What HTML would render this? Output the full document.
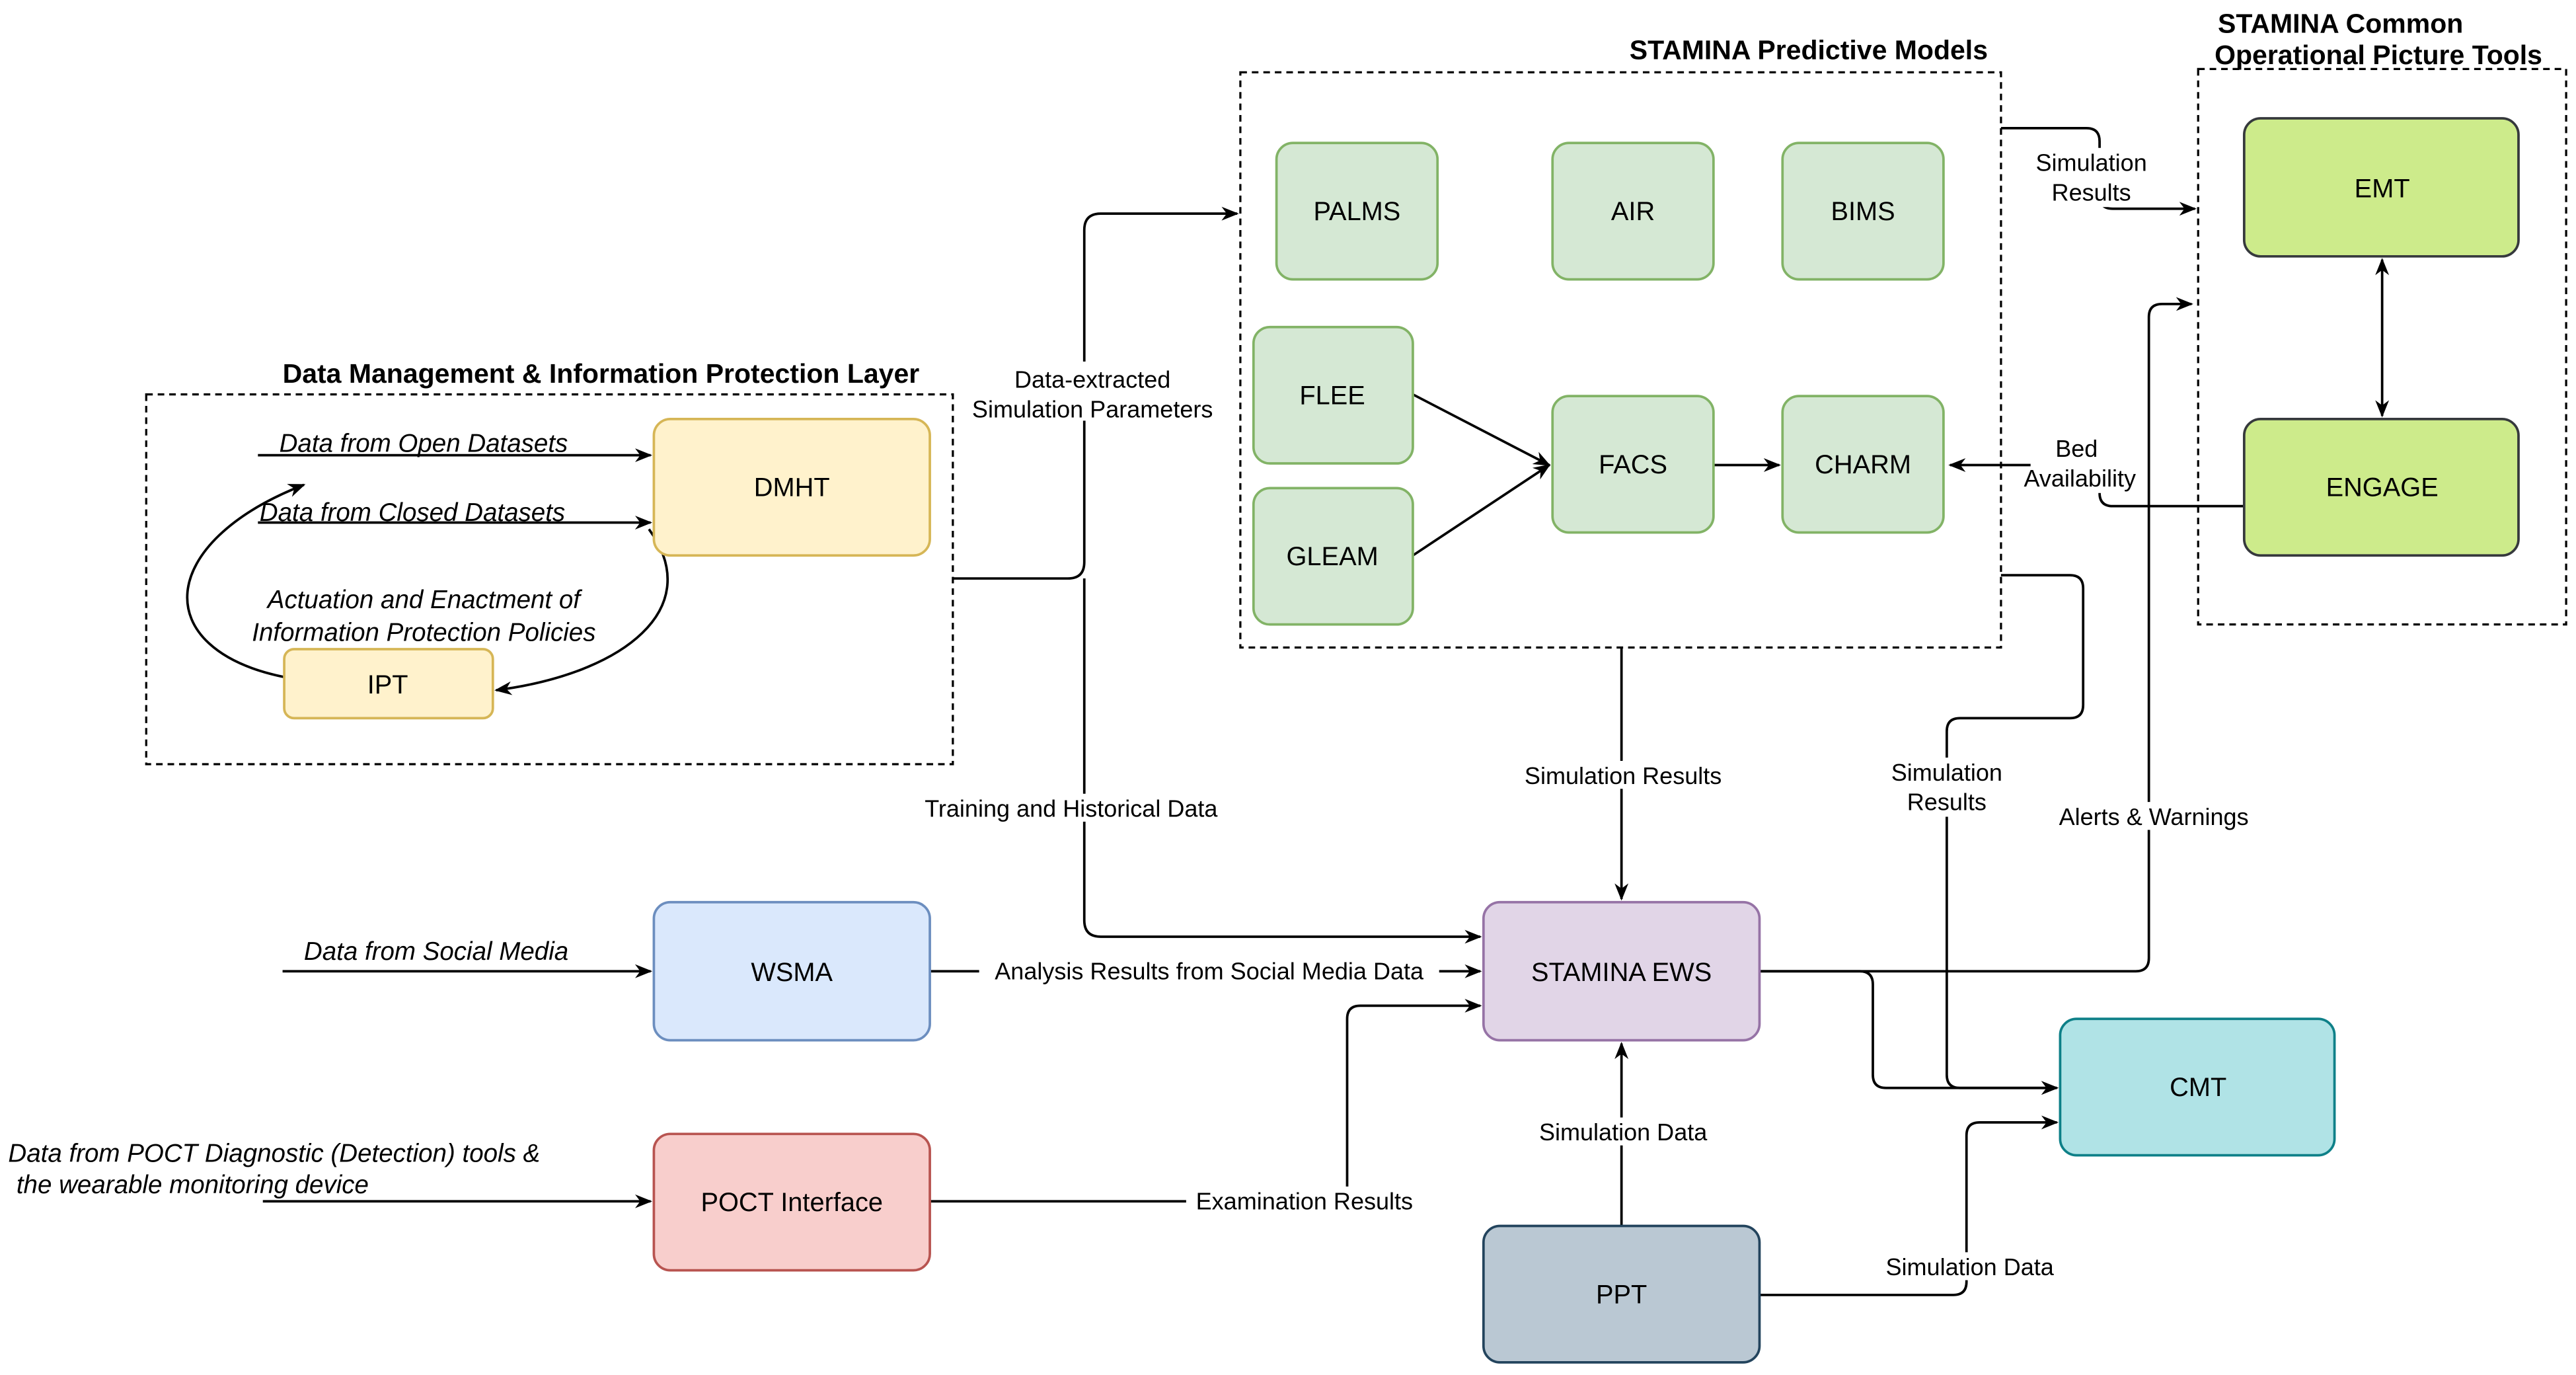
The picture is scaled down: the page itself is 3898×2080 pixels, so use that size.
<!DOCTYPE html>
<html><head><meta charset="utf-8"><style>html,body{margin:0;padding:0;background:#fff}svg{display:block}</style></head>
<body>
<svg width="3898" height="2080" viewBox="0 0 1568 836.7" preserveAspectRatio="none" xmlns="http://www.w3.org/2000/svg" font-family="Liberation Sans, Arial, sans-serif">
<defs>
<marker id="a" viewBox="0 0 10 10" refX="9" refY="5" markerWidth="7" markerHeight="7" orient="auto-start-reverse"><path d="M0,1 L10,5 L0,9 L3,5 z" fill="#000"/></marker>
</defs>
<g fill="none" stroke="#000" stroke-width="1.3" stroke-dasharray="4,3">
<rect x="89" y="240" width="491" height="225"/>
<rect x="755" y="44" width="463" height="350"/>
<rect x="1338" y="42" width="224" height="338"/>
</g>
<g font-weight="bold" font-size="16.5" fill="#000">
<text x="172" y="233">Data Management &amp; Information Protection Layer</text>
<text x="1210" y="36" text-anchor="end">STAMINA Predictive Models</text>
<text x="1350" y="20">STAMINA Common</text>
<text x="1348" y="39">Operational Picture Tools</text>
</g>
<g fill="none" stroke="#000" stroke-width="1.5">
<path d="M157,277 H396" marker-end="url(#a)"/>
<path d="M157,318 H396" marker-end="url(#a)"/>
<path d="M173,412 C90,395 95,330 185,295" marker-end="url(#a)"/>
<path d="M395,322 C430,370 380,410 302,420" marker-end="url(#a)"/>
<path d="M580,352 H650 Q660,352 660,342 V140 Q660,130 670,130 H753" marker-end="url(#a)"/>
<path d="M660,352 V560 Q660,570 670,570 H901" marker-end="url(#a)"/>
<path d="M987,394 V547" marker-end="url(#a)"/>
<path d="M1218,78 H1270 Q1278,78 1278,86 V119 Q1278,127 1286,127 H1336" marker-end="url(#a)"/>
<path d="M1218,350 H1260 Q1268,350 1268,358 V429 Q1268,437 1260,437 H1193 Q1185,437 1185,445 V654 Q1185,662 1193,662 H1252" marker-end="url(#a)"/>
<path d="M1071,591 H1300 Q1308,591 1308,583 V193 Q1308,185 1316,185 H1334" marker-end="url(#a)"/>
<path d="M1071,591 H1132 Q1140,591 1140,599 V654 Q1140,662 1148,662 H1252" marker-end="url(#a)"/>
<path d="M1366,308 H1286 Q1278,308 1278,300 V291 Q1278,283 1270,283 H1187" marker-end="url(#a)"/>
<path d="M1450,158 V253" marker-start="url(#a)" marker-end="url(#a)"/>
<path d="M860,240 L943,283" marker-end="url(#a)"/>
<path d="M860,338 L943,283" marker-end="url(#a)"/>
<path d="M1043,283 H1083" marker-end="url(#a)"/>
<path d="M172,591 H396" marker-end="url(#a)"/>
<path d="M566,591 H901" marker-end="url(#a)"/>
<path d="M160,731 H396" marker-end="url(#a)"/>
<path d="M566,731 H812 Q820,731 820,723 V620 Q820,612 828,612 H901" marker-end="url(#a)"/>
<path d="M987,746 V635" marker-end="url(#a)"/>
<path d="M1071,788 H1189 Q1197,788 1197,780 V691 Q1197,683 1205,683 H1252" marker-end="url(#a)"/>
</g>
<g stroke-width="1.5">
<rect x="398" y="255" width="168" height="83" rx="10" fill="#fff2cc" stroke="#d6b656"/>
<rect x="173" y="395" width="127" height="42" rx="6" fill="#fff2cc" stroke="#d6b656"/>
<g fill="#d5e8d4" stroke="#82b366">
<rect x="777" y="87" width="98" height="83" rx="10"/>
<rect x="945" y="87" width="98" height="83" rx="10"/>
<rect x="1085" y="87" width="98" height="83" rx="10"/>
<rect x="763" y="199" width="97" height="83" rx="10"/>
<rect x="763" y="297" width="97" height="83" rx="10"/>
<rect x="945" y="241" width="98" height="83" rx="10"/>
<rect x="1085" y="241" width="98" height="83" rx="10"/>
</g>
<rect x="1366" y="72" width="167" height="84" rx="10" fill="#cdeb8b" stroke="#36393d"/>
<rect x="1366" y="255" width="167" height="83" rx="10" fill="#cdeb8b" stroke="#36393d"/>
<rect x="398" y="549" width="168" height="84" rx="10" fill="#dae8fc" stroke="#6c8ebf"/>
<rect x="398" y="690" width="168" height="83" rx="10" fill="#f8cecc" stroke="#b85450"/>
<rect x="903" y="549" width="168" height="84" rx="10" fill="#e1d5e7" stroke="#9673a6"/>
<rect x="903" y="746" width="168" height="83" rx="10" fill="#bac8d3" stroke="#23445d"/>
<rect x="1254" y="620" width="167" height="83" rx="10" fill="#b0e3e6" stroke="#0e8088"/>
</g>
<g font-size="16" text-anchor="middle" fill="#000">
<text x="482" y="302">DMHT</text>
<text x="236" y="422">IPT</text>
<text x="826" y="134">PALMS</text>
<text x="994" y="134">AIR</text>
<text x="1134" y="134">BIMS</text>
<text x="811" y="246">FLEE</text>
<text x="811" y="344">GLEAM</text>
<text x="994" y="288">FACS</text>
<text x="1134" y="288">CHARM</text>
<text x="1450" y="120">EMT</text>
<text x="1450" y="302">ENGAGE</text>
<text x="482" y="597">WSMA</text>
<text x="482" y="737">POCT Interface</text>
<text x="987" y="597">STAMINA EWS</text>
<text x="987" y="793">PPT</text>
<text x="1338" y="667">CMT</text>
</g>
<g font-size="15.5" font-style="italic" fill="#000">
<text x="170" y="275">Data from Open Datasets</text>
<text x="158" y="317">Data from Closed Datasets</text>
<text x="258" y="370" text-anchor="middle">Actuation and Enactment of</text>
<text x="258" y="390" text-anchor="middle">Information Protection Policies</text>
<text x="185" y="584">Data from Social Media</text>
<text x="5" y="707">Data from POCT Diagnostic (Detection) tools &amp;</text>
<text x="10" y="726">the wearable monitoring device</text>
</g>
<g font-size="14.5" text-anchor="middle" fill="#000">
<rect x="590" y="220" width="154" height="36" fill="#fff"/>
<text x="665" y="236">Data-extracted</text>
<text x="665" y="254">Simulation Parameters</text>
<rect x="554" y="483" width="196" height="17" fill="#fff"/>
<text x="652" y="497">Training and Historical Data</text>
<rect x="922" y="463" width="132" height="17" fill="#fff"/>
<text x="988" y="477">Simulation Results</text>
<rect x="1234" y="90" width="78" height="36" fill="#fff"/>
<text x="1273" y="104">Simulation</text>
<text x="1273" y="122">Results</text>
<rect x="1146" y="461" width="78" height="36" fill="#fff"/>
<text x="1185" y="475">Simulation</text>
<text x="1185" y="493">Results</text>
<rect x="1247" y="488" width="128" height="17" fill="#fff"/>
<text x="1311" y="502">Alerts &amp; Warnings</text>
<rect x="1236" y="264" width="68" height="36" fill="#fff"/>
<text x="1264" y="278">Bed</text>
<text x="1266" y="296">Availability</text>
<rect x="596" y="582" width="280" height="17" fill="#fff"/>
<text x="736" y="596">Analysis Results from Social Media Data</text>
<rect x="722" y="722" width="144" height="17" fill="#fff"/>
<text x="794" y="736">Examination Results</text>
<rect x="932" y="680" width="112" height="17" fill="#fff"/>
<text x="988" y="694">Simulation Data</text>
<rect x="1143" y="762" width="112" height="17" fill="#fff"/>
<text x="1199" y="776">Simulation Data</text>
</g>
</svg>
</body></html>
